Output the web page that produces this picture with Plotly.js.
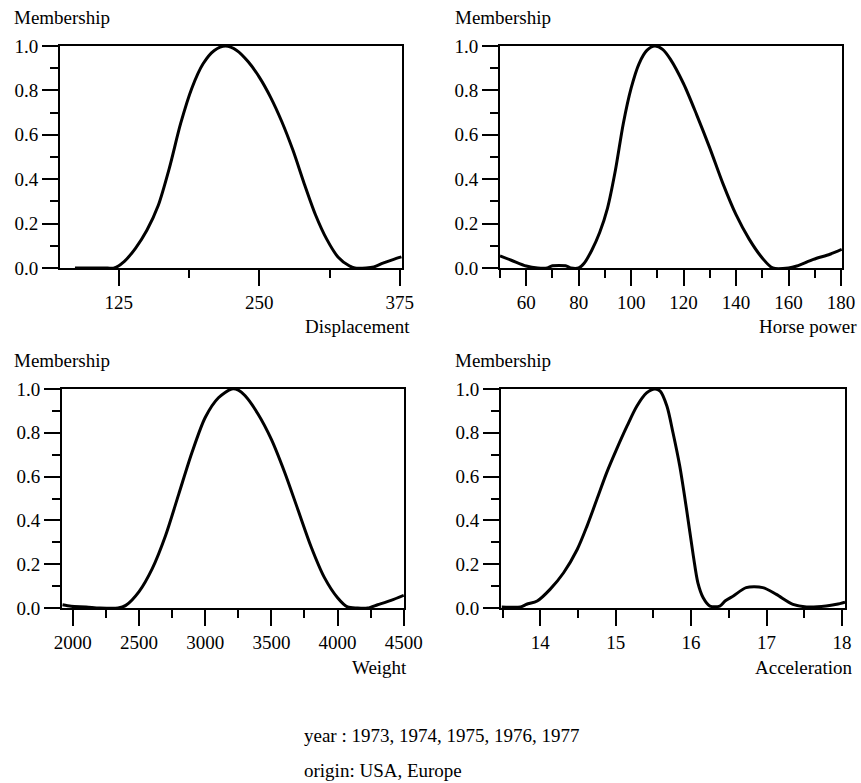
<!DOCTYPE html>
<html>
<head>
<meta charset="utf-8">
<script src="https://cdn.plot.ly/plotly-3.0.1.min.js"></script>
<style>html,body{margin:0;padding:0;background:#fff;}#chart{width:861px;height:783px;}</style>
</head>
<body>
<div id="chart"></div>
<script>
// Displacement membership
const dispX = [86, 100, 115, 121, 130, 140, 150, 160, 170, 180, 190, 200, 210, 220, 230, 240, 250, 260, 270, 280, 290, 300, 310, 320, 330, 335, 345, 352, 360, 369, 376.5];
const dispY = [0, 0, 0, 0, 0.03, 0.09, 0.17, 0.28, 0.45, 0.65, 0.81, 0.92, 0.98, 1.0, 0.98, 0.93, 0.86, 0.77, 0.66, 0.53, 0.38, 0.24, 0.13, 0.05, 0.01, 0, 0, 0.005, 0.022, 0.038, 0.05];

// Horse power membership
const hpX = [50, 54.3, 60, 64.4, 68, 70, 75, 77, 80, 82, 85, 88, 91, 94, 97, 100, 103, 106, 109, 112, 115, 120, 125, 130, 135, 140, 145, 150, 154, 160, 163.2, 169.5, 175.8, 180.3];
const hpY = [0.054, 0.035, 0.009, 0, 0, 0.01, 0.01, 0, 0, 0.02, 0.08, 0.16, 0.27, 0.44, 0.65, 0.81, 0.92, 0.98, 1.0, 0.985, 0.94, 0.83, 0.69, 0.54, 0.38, 0.24, 0.13, 0.045, 0, 0, 0.009, 0.039, 0.062, 0.084];

// Weight membership
const wtX = [1922, 1987, 2101, 2202, 2342, 2400, 2500, 2600, 2700, 2800, 2900, 3000, 3100, 3200, 3250, 3300, 3400, 3500, 3600, 3700, 3800, 3900, 4000, 4075, 4150, 4227, 4303, 4404, 4500];
const wtY = [0.015, 0.008, 0.005, 0, 0, 0.012, 0.075, 0.18, 0.33, 0.52, 0.71, 0.87, 0.96, 1.0, 0.995, 0.97, 0.885, 0.77, 0.62, 0.45, 0.28, 0.14, 0.047, 0.005, 0, 0, 0.015, 0.035, 0.058];

// Acceleration membership
const accX = [13.49, 13.74, 13.82, 13.96, 14.13, 14.31, 14.49, 14.62, 14.75, 14.88, 15.01, 15.15, 15.28, 15.41, 15.52, 15.59, 15.68, 15.76, 15.85, 15.94, 16.03, 16.09, 16.16, 16.25, 16.38, 16.45, 16.56, 16.73, 16.95, 17.13, 17.35, 17.53, 17.79, 17.93, 18.04];
const accY = [0.005, 0.005, 0.017, 0.032, 0.085, 0.161, 0.267, 0.374, 0.495, 0.617, 0.723, 0.83, 0.921, 0.982, 1.0, 0.99, 0.921, 0.8, 0.647, 0.45, 0.237, 0.115, 0.047, 0.009, 0.009, 0.032, 0.055, 0.093, 0.093, 0.062, 0.017, 0.005, 0.009, 0.017, 0.027];

const yLabel = "Membership";
const xTitles = ["Displacement", "Horse power", "Weight", "Acceleration"];
const footer = ["year : 1973, 1974, 1975, 1976, 1977", "origin: USA, Europe"];

const W = 861, H = 783;
const FONT = "Liberation Serif, Times New Roman, serif";
const FS = 19;

function px(x) { return x / W; }
function py(y) { return (H - y) / H; }

const traceStyle = {mode: "lines", line: {color: "#000", width: 3, shape: "spline", smoothing: 0.8}, hoverinfo: "skip", showlegend: false};
const data = [
  Object.assign({x: dispX, y: dispY, xaxis: "x", yaxis: "y"}, traceStyle),
  Object.assign({x: hpX, y: hpY, xaxis: "x2", yaxis: "y2"}, traceStyle),
  Object.assign({x: wtX, y: wtY, xaxis: "x3", yaxis: "y3"}, traceStyle),
  Object.assign({x: accX, y: accY, xaxis: "x4", yaxis: "y4"}, traceStyle)
];

function xax(domain, range, tickvals, minorDtick, minorTick0, anchor) {
  return {
    domain: domain, range: range, anchor: anchor,
    tickmode: "array", tickvals: tickvals,
    showline: true, linecolor: "#000", linewidth: 2, mirror: true,
    ticks: "outside", ticklen: 16, tickwidth: 2, tickcolor: "#000",
    minor: {ticks: "outside", ticklen: 8, tickwidth: 2, tickcolor: "#000", dtick: minorDtick, tick0: minorTick0, showgrid: false},
    showgrid: false, zeroline: false, fixedrange: true,
    tickfont: {family: FONT, size: FS, color: "#000"}
  };
}
function yax(domain, anchor) {
  return {
    domain: domain, range: [0, 1], anchor: anchor,
    tickmode: "linear", tick0: 0, dtick: 0.2, tickformat: ".1f",
    showline: true, linecolor: "#000", linewidth: 2, mirror: true,
    ticks: "outside", ticklen: 16, tickwidth: 2, tickcolor: "#000",
    minor: {ticks: "outside", ticklen: 8, tickwidth: 2, tickcolor: "#000", dtick: 0.1, tick0: 0, showgrid: false},
    showgrid: false, zeroline: false, fixedrange: true,
    tickfont: {family: FONT, size: FS, color: "#000"}
  };
}

const topY = [py(268), py(46)];
const botY = [py(608), py(389)];

const layout = {
  width: W, height: H,
  margin: {l: 0, r: 0, t: 0, b: 0},
  paper_bgcolor: "#fff", plot_bgcolor: "#fff",
  font: {family: FONT, size: FS, color: "#000"},
  showlegend: false,
  xaxis: xax([px(60), px(402)], [72.7, 377], [125, 250, 375], 62.5, 0, "y"),
  yaxis: yax(topY, "x"),
  xaxis2: xax([px(500), px(842)], [50, 180.4], [60, 80, 100, 120, 140, 160, 180], 10, 0, "y2"),
  yaxis2: yax(topY, "x2"),
  xaxis3: xax([px(62), px(404)], [1918, 4502], [2000, 2500, 3000, 3500, 4000, 4500], 250, 0, "y3"),
  yaxis3: yax(botY, "x3"),
  xaxis4: xax([px(501), px(845)], [13.48, 18.04], [14, 15, 16, 17, 18], 0.5, 0, "y4"),
  yaxis4: yax(botY, "x4"),
  annotations: [
    {text: yLabel, x: px(12), y: py(17), xref: "paper", yref: "paper", xanchor: "left", yanchor: "middle", showarrow: false},
    {text: yLabel, x: px(453), y: py(17), xref: "paper", yref: "paper", xanchor: "left", yanchor: "middle", showarrow: false},
    {text: yLabel, x: px(12), y: py(360), xref: "paper", yref: "paper", xanchor: "left", yanchor: "middle", showarrow: false},
    {text: yLabel, x: px(453), y: py(360), xref: "paper", yref: "paper", xanchor: "left", yanchor: "middle", showarrow: false},
    {text: xTitles[0], x: px(303), y: py(326), xref: "paper", yref: "paper", xanchor: "left", yanchor: "middle", showarrow: false},
    {text: xTitles[1], x: px(757), y: py(326), xref: "paper", yref: "paper", xanchor: "left", yanchor: "middle", showarrow: false},
    {text: xTitles[2], x: px(350), y: py(667), xref: "paper", yref: "paper", xanchor: "left", yanchor: "middle", showarrow: false},
    {text: xTitles[3], x: px(753), y: py(667), xref: "paper", yref: "paper", xanchor: "left", yanchor: "middle", showarrow: false},
    {text: footer[0], x: px(302), y: py(735), xref: "paper", yref: "paper", xanchor: "left", yanchor: "middle", showarrow: false},
    {text: footer[1], x: px(302), y: py(770), xref: "paper", yref: "paper", xanchor: "left", yanchor: "middle", showarrow: false}
  ]
};

Plotly.newPlot("chart", data, layout, {displayModeBar: false, staticPlot: true});
</script>
</body>
</html>
